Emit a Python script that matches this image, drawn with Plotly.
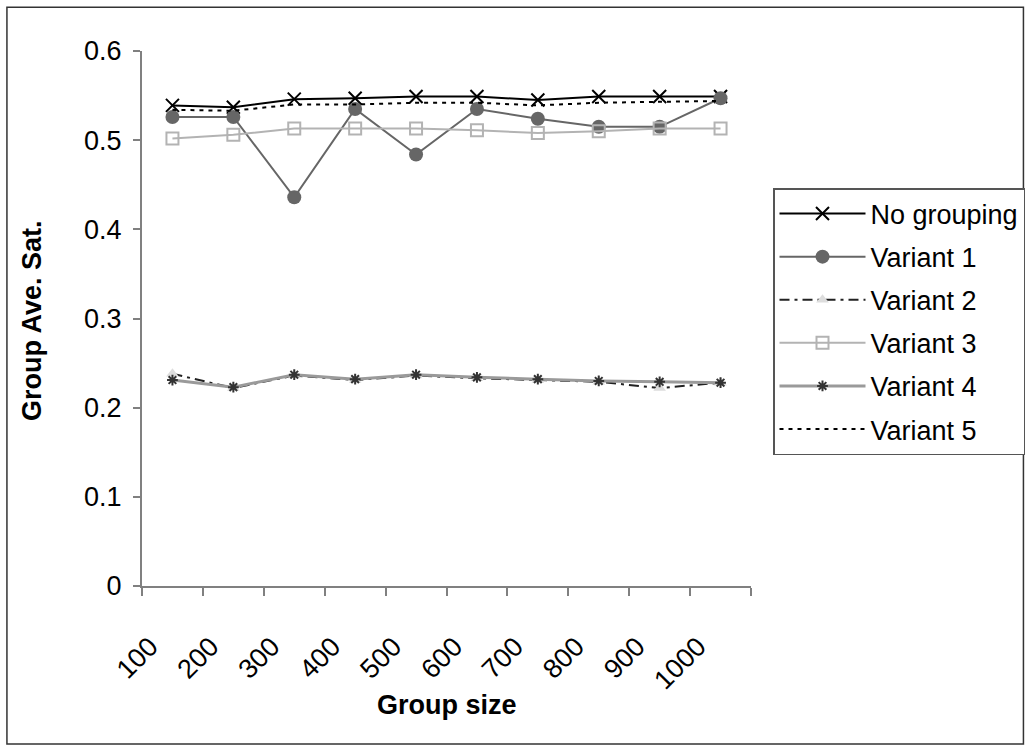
import plotly.graph_objects as go

group_sizes = ["100", "200", "300", "400", "500", "600", "700", "800", "900", "1000"]

no_grouping = [0.539, 0.537, 0.546, 0.547, 0.549, 0.549, 0.545, 0.549, 0.549, 0.549]
variant1 = [0.526, 0.526, 0.436, 0.535, 0.484, 0.535, 0.524, 0.515, 0.515, 0.547]
variant2 = [0.238, 0.222, 0.236, 0.231, 0.236, 0.233, 0.231, 0.229, 0.222, 0.228]
variant3 = [0.502, 0.506, 0.513, 0.513, 0.513, 0.511, 0.508, 0.510, 0.513, 0.513]
variant4 = [0.231, 0.223, 0.237, 0.232, 0.237, 0.234, 0.232, 0.230, 0.229, 0.228]
variant5 = [0.534, 0.533, 0.540, 0.540, 0.542, 0.542, 0.539, 0.542, 0.543, 0.544]

xpos = [i + 0.5 for i in range(len(group_sizes))]
FONT = "Liberation Sans, Arial, sans-serif"

fig = go.Figure()
fig.add_trace(go.Scatter(x=xpos, y=no_grouping, name="No grouping", mode="lines+markers",
                         legendgroup="g0",
                         line=dict(color="#000000", width=2),
                         marker=dict(symbol="x-thin-open", size=13, color="#000000",
                                     line=dict(width=2, color="#000000"))))
fig.add_trace(go.Scatter(x=xpos, y=variant1, name="Variant 1", mode="lines+markers",
                         legendgroup="g1",
                         line=dict(color="#666666", width=2),
                         marker=dict(symbol="circle", size=14, color="#666666")))
fig.add_trace(go.Scatter(x=xpos, y=variant2, name="Variant 2", mode="lines+markers",
                         legendgroup="g2",
                         line=dict(color="#222222", width=2, dash="10px,5px,3px,5px"),
                         marker=dict(symbol="triangle-up", size=11, color="#dddddd")))
fig.add_trace(go.Scatter(x=xpos, y=variant3, name="Variant 3", mode="lines+markers",
                         legendgroup="g3",
                         line=dict(color="#b3b3b3", width=2),
                         marker=dict(symbol="square-open", size=12, color="#b3b3b3",
                                     line=dict(width=2, color="#b3b3b3"))))
fig.add_trace(go.Scatter(x=xpos, y=variant4, name="Variant 4", mode="lines+markers",
                         legendgroup="g4",
                         line=dict(color="#9a9a9a", width=3),
                         marker=dict(symbol="asterisk-open", size=9, color="#333333",
                                     line=dict(width=2, color="#333333"))))
fig.add_trace(go.Scatter(x=xpos, y=variant5, name="Variant 5", mode="lines",
                         legendgroup="g5",
                         line=dict(color="#000000", width=2, dash="4px,5px")))

W, H = 1031, 752
L, R, T, B = 142, 750.7, 50.7, 586
pw, ph = R - L, B - T

def px(xp):
    return (xp - L) / pw

def py(yp):
    return (B - yp) / ph

fig.update_layout(
    width=W, height=H, autosize=False,
    margin=dict(l=L, r=W - R, t=T, b=H - B, pad=0),
    paper_bgcolor="white", plot_bgcolor="white",
    font=dict(family=FONT, size=27, color="#000000"),
    showlegend=True,
    legend=dict(xref="container", yref="container", x=773 / W, y=1 - 188 / H,
                xanchor="left", yanchor="top",
                bordercolor="#555555", borderwidth=1.5, bgcolor="white",
                font=dict(family=FONT, size=27, color="#000000"),
                itemwidth=86, tracegroupgap=5, traceorder="grouped"),
    xaxis=dict(range=[0, 10], tickmode="array", tickvals=list(range(11)),
               ticktext=group_sizes + [""], tickangle=-45,
               showgrid=False, zeroline=False, showline=True, linecolor="#808080",
               linewidth=2, ticks="outside", ticklen=8, tickcolor="#808080", tickwidth=1.5,
               ticklabelstandoff=24, ticklabelshift=8, automargin=False,
               tickfont=dict(family=FONT, size=27, color="#000000")),
    yaxis=dict(range=[0, 0.6], tickmode="array", tickvals=[0, 0.1, 0.2, 0.3, 0.4, 0.5, 0.6],
               ticktext=["0", "0.1", "0.2", "0.3", "0.4", "0.5", "0.6"],
               showgrid=False, zeroline=False, showline=True, linecolor="#808080",
               linewidth=2, ticks="outside", ticklen=7, tickcolor="#808080", tickwidth=1.5,
               ticklabelstandoff=6, automargin=False,
               tickfont=dict(family=FONT, size=27, color="#000000")),
    shapes=[dict(type="rect", xref="paper", yref="paper",
                 x0=px(7), x1=px(1023), y0=py(744), y1=py(7),
                 line=dict(color="#333333", width=1.5), layer="below")],
    annotations=[
        dict(text="<b>Group size</b>", xref="paper", yref="paper", x=px(447), y=py(705),
             xanchor="center", yanchor="middle", showarrow=False,
             font=dict(family=FONT, size=27, color="#000000")),
        dict(text="<b>Group Ave. Sat.</b>", xref="paper", yref="paper", x=px(32), y=py(320),
             xanchor="center", yanchor="middle", showarrow=False, textangle=-90,
             font=dict(family=FONT, size=27, color="#000000")),
    ],
)

fig.write_html("out.html")
